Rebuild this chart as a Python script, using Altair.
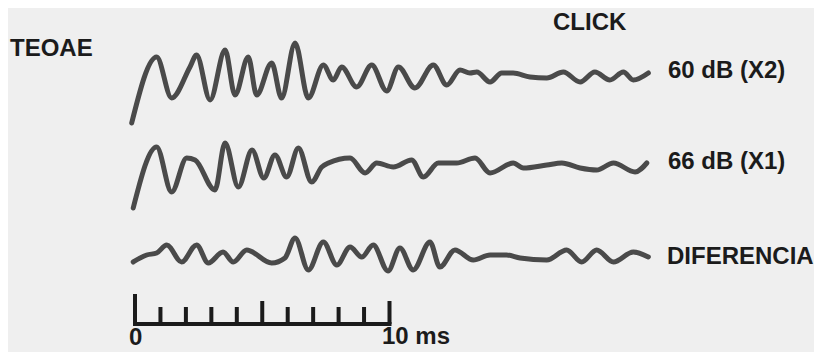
import altair as alt
import pandas as pd

# ---- data (time in ms, amplitude in arbitrary units, up = positive)
t_60 = [-0.13, 0.85, 1.44, 2.16, 2.42, 2.95, 3.54, 3.93, 4.45, 4.78, 5.37, 5.76, 6.29, 6.81,
        7.40, 7.79, 8.12, 8.71, 9.30, 9.89, 10.35, 11.00, 11.72, 12.25, 12.77, 13.16, 13.43,
        13.95, 14.41, 14.86, 15.52, 16.18, 16.83, 17.49, 18.07, 18.66, 19.19, 19.58, 20.17]
a_60 = [-47, 19, -22, 9, 21, -24, 26, -19, 19, -19, 13, -22, 33, -22,
        11, -4, 9, -11, 11, -15, 9, -12, 11, -9, 6, 3, 4,
        -6, 3, 3, -1, -2, 4, -6, 4, -4, 4, -4, 3]

t_66 = [-0.07, 0.85, 1.44, 2.03, 2.36, 3.14, 3.54, 4.06, 4.60, 5.06, 5.50, 5.96, 6.42, 6.94,
        7.34, 7.60, 8.45, 9.04, 9.50, 10.15, 10.87, 11.33, 11.92, 12.64, 13.36, 13.95, 14.86,
        15.26, 16.18, 16.77, 17.49, 18.14, 18.80, 19.65, 20.11]
a_66 = [-42, 19, -26, 8, 6, -24, 23, -21, 16, -12, 11, -11, 18, -16,
        -1, 3, 8, -7, 3, -1, 6, -11, 3, 3, 8, -7, 3,
        -2, 1, 3, -2, -4, 3, -6, 3]

t_dif = [-0.07, 0.46, 0.85, 1.25, 1.83, 2.42, 2.88, 3.46, 3.86, 4.39, 5.37, 5.89, 6.29, 6.81,
         7.40, 7.93, 8.45, 8.91, 9.36, 9.94, 10.41, 10.93, 11.59, 11.98, 12.57, 13.29, 13.95,
         14.60, 15.13, 16.18, 16.96, 17.55, 18.14, 18.80, 19.58, 20.17]
a_dif = [-5, 2, 4, 12, -5, 12, -6, 5, -5, 7, -6, -1, 19, -13,
         15, -8, 10, 0, 12, -14, 9, -13, 15, -10, 7, -3, 2,
         2, -1, -3, 7, -5, 7, -5, 5, 0]

trace_names = ["60 dB (X2)", "66 dB (X1)", "DIFERENCIA"]
scale_ticks_ms = list(range(0, 11))

# ---- layout
W, H = 806, 344
PX_PER_MS = 25.45
X0 = 127                       # horizontal pixel of t = 0 ms
BASE = [68, 158, 249]          # vertical pixel of each trace's zero line
INK = "#4a4a4a"
TXT = "#1b1b1b"
FONT = "Liberation Sans"

rows = []
for name, ts, amps, base in zip(trace_names, [t_60, t_66, t_dif], [a_60, a_66, a_dif], BASE):
    for t, a in zip(ts, amps):
        rows.append({"trace": name, "t": t, "y": base - a})
df = pd.DataFrame(rows)

x_scale = alt.Scale(domain=[-X0 / PX_PER_MS, (W - X0) / PX_PER_MS], nice=False, zero=False)
y_scale = alt.Scale(domain=[0, H], reverse=True, nice=False, zero=False)

lines = alt.Chart(df).mark_line(
    interpolate="monotone", strokeWidth=5, color=INK, strokeCap="round", strokeJoin="round"
).encode(
    x=alt.X("t:Q", scale=x_scale, axis=None),
    y=alt.Y("y:Q", scale=y_scale, axis=None),
    detail="trace:N",
)

BAR_Y = 316
ticks = pd.DataFrame({"t": scale_ticks_ms})
ticks["y0"] = BAR_Y
ticks["y1"] = [BAR_Y - (30 if t == 0 else (23 if t % 5 == 0 else 17)) for t in scale_ticks_ms]

tick_marks = alt.Chart(ticks).mark_rule(strokeWidth=4, color=TXT, strokeCap="butt").encode(
    x=alt.X("t:Q", scale=x_scale, axis=None),
    y=alt.Y("y0:Q", scale=y_scale, axis=None),
    y2="y1:Q",
)

bar = alt.Chart(pd.DataFrame({"a": [scale_ticks_ms[0]], "b": [scale_ticks_ms[-1]]})).mark_rule(
    strokeWidth=4, color=TXT, strokeCap="square"
).encode(
    x=alt.X("a:Q", scale=x_scale, axis=None),
    x2="b:Q",
    y=alt.value(BAR_Y),
)

labels = pd.DataFrame({
    "text": ["TEOAE", "CLICK"] + trace_names + ["0", "10 ms"],
    "px": [2, 545, 660, 660, 659, 121, 374],
    "py": [41, 15, 63, 154, 249, 330, 329],
})
texts = alt.Chart(labels).mark_text(
    align="left", baseline="middle", font=FONT, fontWeight="bold", fontSize=24, color=TXT
).encode(
    x=alt.X("px:Q", scale=alt.Scale(domain=[0, W], nice=False, zero=False), axis=None),
    y=alt.Y("py:Q", scale=alt.Scale(domain=[0, H], reverse=True, nice=False, zero=False), axis=None),
    text="text:N",
)

chart = alt.layer(lines, bar, tick_marks, texts).resolve_scale(x="independent", y="independent").properties(
    width=W, height=H, padding=0, autosize=alt.AutoSizeParams(type="none"), background="#efefef"
).configure_view(stroke=None)

chart.save("out.html", embed_options={"renderer": "svg", "actions": False})
